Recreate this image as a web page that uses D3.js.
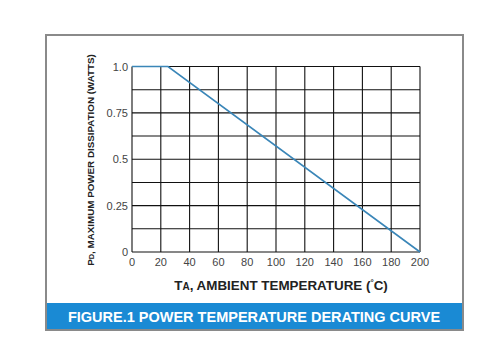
<!DOCTYPE html>
<html><head><meta charset="utf-8">
<script src="https://cdn.jsdelivr.net/npm/d3@7"></script>
<style>body{margin:0;background:#fff;}svg{display:block;font-family:"Liberation Sans",Arial,sans-serif;}</style>
</head><body>
<svg id="c" width="500" height="358"></svg>
<script>
const tempPoints = [0, 25, 200];
const powerPoints = [1.0, 1.0, 0];
const xTicks = [0, 20, 40, 60, 80, 100, 120, 140, 160, 180, 200];
const yTickValues = [0, 0.25, 0.5, 0.75, 1.0];
const yTickLabels = ["0", "0.25", "0.5", "0.75", "1.0"];
const yGrid = [0, 0.125, 0.25, 0.375, 0.5, 0.625, 0.75, 0.875, 1.0];
const figureTitle = "FIGURE.1 POWER TEMPERATURE DERATING CURVE";

const svg = d3.select("#c");
const x = d3.scaleLinear().domain([0, 200]).range([132, 420]);
const y = d3.scaleLinear().domain([0, 1]).range([252, 66.5]);

// frame
svg.append("rect").attr("x", 46).attr("y", 35).attr("width", 417).attr("height", 295)
  .attr("fill", "#fff").attr("stroke", "#8a8a8a").attr("stroke-width", 2);
svg.append("rect").attr("x", 47).attr("y", 303).attr("width", 415).attr("height", 26)
  .attr("fill", "#1a8ad4");
svg.append("text").attr("x", 254).attr("y", 322).attr("text-anchor", "middle")
  .attr("fill", "#fff").attr("font-weight", "bold").attr("font-size", 14.5).text(figureTitle);

// grid
const g = svg.append("g").attr("stroke", "#111").attr("stroke-width", 1.1);
g.selectAll("line.v").data(xTicks).join("line").attr("class", "v")
  .attr("x1", d => x(d)).attr("x2", d => x(d)).attr("y1", y(1)).attr("y2", y(0));
g.selectAll("line.h").data(yGrid).join("line").attr("class", "h")
  .attr("x1", x(0)).attr("x2", x(200)).attr("y1", d => y(d)).attr("y2", d => y(d));

// curve
const line = d3.line().x((d, i) => x(tempPoints[i])).y((d, i) => y(powerPoints[i]));
svg.append("path").attr("d", line(tempPoints)).attr("fill", "none")
  .attr("stroke", "#3a86b8").attr("stroke-width", 1.6);

// axes labels
svg.selectAll("text.xt").data(xTicks).join("text").attr("class", "xt")
  .attr("x", d => x(d)).attr("y", 266).attr("text-anchor", "middle")
  .attr("font-size", 11).attr("fill", "#444").text(d => d);
svg.selectAll("text.yt").data(yTickValues).join("text").attr("class", "yt")
  .attr("x", 128).attr("y", d => y(d) + 4).attr("text-anchor", "end")
  .attr("font-size", 11).attr("fill", "#444").text((d, i) => yTickLabels[i]);

// x title
const xt = svg.append("text").attr("x", 281).attr("y", 290).attr("text-anchor", "middle")
  .attr("font-weight", "bold").attr("font-size", 13.4).attr("fill", "#222");
xt.append("tspan").text("T");
xt.append("tspan").attr("font-size", 10).text("A");
xt.append("tspan").text(", AMBIENT TEMPERATURE (");
xt.append("tspan").attr("font-size", 8).attr("dy", -5).text("°");
xt.append("tspan").attr("dy", 5).text("C)");

// y title
const yt = svg.append("text").attr("transform", "translate(94,160) rotate(-90)")
  .attr("text-anchor", "middle").attr("font-weight", "bold").attr("font-size", 9.8).attr("fill", "#222");
yt.append("tspan").text("P");
yt.append("tspan").attr("font-size", 7.5).text("D");
yt.append("tspan").text(", MAXIMUM POWER DISSIPATION (WATTS)");
</script>
</body></html>
